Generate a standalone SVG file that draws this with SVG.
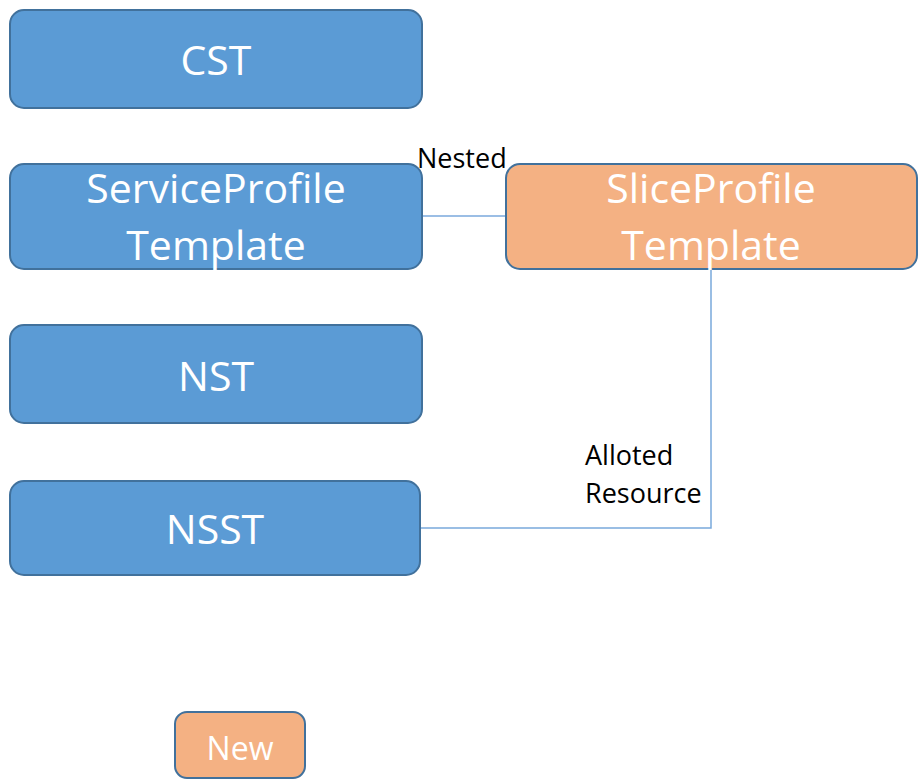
<svg xmlns="http://www.w3.org/2000/svg" width="920" height="780" viewBox="0 0 920 780">
<style>
.blue{fill:#5b9bd5;stroke:#41719c;stroke-width:2}
.orange{fill:#f4b183;stroke:#41719c;stroke-width:2}
.t{font-family:"Open Sans","Liberation Sans",sans-serif;fill:#ffffff;text-anchor:middle}
.big{font-size:41px}
.lbl{font-family:"Open Sans","Liberation Sans",sans-serif;fill:#000000;font-size:27px}
.con{fill:none;stroke:#7aa9dc;stroke-width:1.5}
</style>
<rect width="920" height="780" fill="#ffffff"/>
<g id="connectors">
<line class="con" x1="422" y1="216" x2="506" y2="216"/>
<polyline class="con" points="711,269 711,528 420,528"/>
</g>
<g id="cst">
<rect class="blue" x="10" y="10" width="412" height="98" rx="14"/>
<text class="t big" x="216" y="75">CST</text>
</g>
<g id="serviceprofile">
<rect class="blue" x="10" y="164" width="412" height="105" rx="14"/>
<text class="t big" x="216" y="203">ServiceProfile</text>
<text class="t big" x="216" y="260">Template</text>
</g>
<g id="sliceprofile">
<rect class="orange" x="506" y="164" width="411" height="105" rx="14"/>
<text class="t big" x="711" y="203">SliceProfile</text>
<text class="t big" x="711" y="260">Template</text>
</g>
<g id="nst">
<rect class="blue" x="10" y="325" width="412" height="98" rx="14"/>
<text class="t big" x="216" y="391">NST</text>
</g>
<g id="nsst">
<rect class="blue" x="10" y="481" width="410" height="94" rx="14"/>
<text class="t big" x="215" y="544">NSST</text>
</g>
<g id="new">
<rect class="orange" x="175" y="712" width="130" height="66" rx="12"/>
<text class="t" x="240" y="760" font-size="32">New</text>
</g>
<g id="labels">
<text class="lbl" x="417" y="168">Nested</text>
<text class="lbl" x="585" y="465">Alloted</text>
<text class="lbl" x="585" y="503">Resource</text>
</g>
</svg>
